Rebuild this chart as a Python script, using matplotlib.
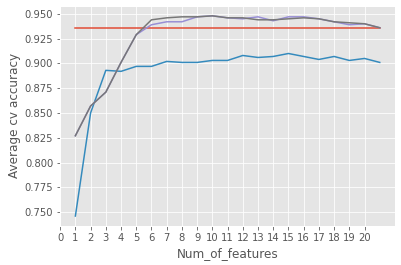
import numpy as np
import matplotlib
matplotlib.use("Agg")
import matplotlib.pyplot as plt

plt.style.use("ggplot")

# ── DATA ────────────────────────────────────────────────────────────
num_features = list(range(1, 22))
baseline = [0.936] * 21
acc_blue = [0.746, 0.850, 0.893, 0.892, 0.897, 0.897, 0.902, 0.901, 0.901, 0.903,
            0.903, 0.908, 0.906, 0.907, 0.910, 0.907, 0.904, 0.907, 0.903, 0.905, 0.901]
acc_purple = [0.827, 0.857, 0.871, 0.901, 0.929, 0.939, 0.942, 0.942, 0.947, 0.948,
              0.946, 0.945, 0.947, 0.943, 0.947, 0.947, 0.945, 0.942, 0.939, 0.940, 0.936]
acc_gray = [0.827, 0.857, 0.871, 0.901, 0.929, 0.944, 0.946, 0.947, 0.947, 0.948,
            0.946, 0.946, 0.944, 0.944, 0.945, 0.946, 0.945, 0.942, 0.941, 0.940, 0.936]
xtick_vals = list(range(0, 21))
# ────────────────────────────────────────────────────────────────────

fig = plt.figure(figsize=(401 / 72, 265 / 72), dpi=72)
ax = fig.add_axes([0.150, 0.147, 0.835, 0.831])

ax.plot(num_features, baseline)
ax.plot(num_features, acc_blue)
ax.plot(num_features, acc_purple)
ax.plot(num_features, acc_gray)

ax.set_xticks(xtick_vals)
ax.set_xlabel("Num_of_features")
ax.set_ylabel("Average cv accuracy")

fig.savefig("out.png", dpi=72)
